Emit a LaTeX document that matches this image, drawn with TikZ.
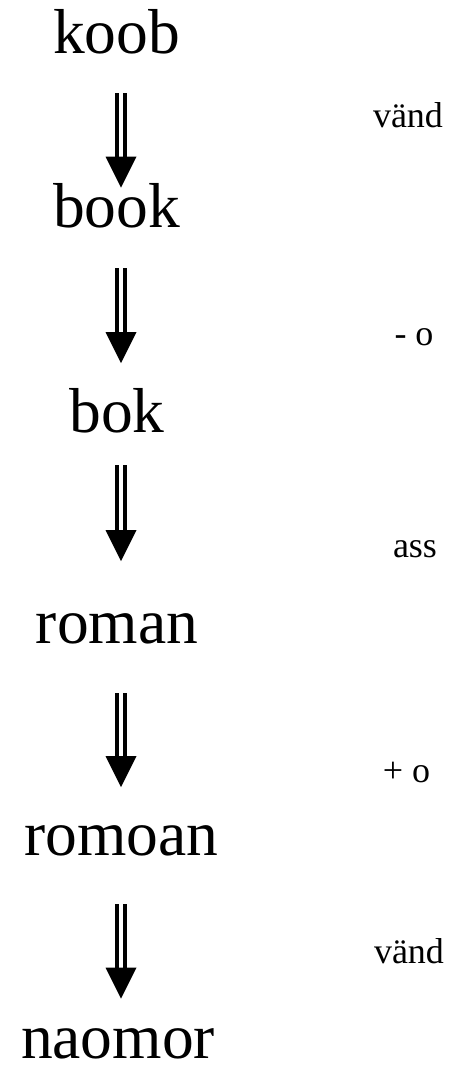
\documentclass[tikz,border=0pt]{standalone}
\usepackage{fontspec}
\setmainfont{Liberation Serif}
\tikzset{
  word/.style={font=\fontsize{63.5}{70}\selectfont, anchor=base, inner sep=0pt},
  lab/.style={font=\fontsize{36}{40}\selectfont, anchor=base, inner sep=0pt},
  shaft/.style={line width=4.2pt, line cap=butt},
  headfill/.style={fill=black}
}
\begin{document}
\begin{tikzpicture}[x=1pt,y=1pt]
\useasboundingbox (0,0) rectangle (453,-1072);
% words
\node[word] (w1) at (116.5,-53) {koob};
\node[word] (w2) at (116.5,-227) {book};
\node[word] (w3) at (117,-432) {bok};
\node[word] (w4) at (117,-643) {roman};
\node[word] (w5) at (121.5,-855) {romoan};
\node[word] (w6) at (118,-1058) {naomor};
% labels
\node[lab] (l1) at (408,-127) {vänd};
\node[lab] (l2) at (414,-345) {- o};
\node[lab] (l3) at (415,-557) {ass};
\node[lab] (l4) at (406.5,-782) {+ o};
\node[lab] (l5) at (409,-963) {vänd};
% arrow end points
\coordinate (s1) at (121,-93);  \coordinate (t1) at (121,-187.5);
\coordinate (s2) at (121,-268); \coordinate (t2) at (121,-363);
\coordinate (s3) at (121,-465); \coordinate (t3) at (121,-561);
\coordinate (s4) at (121,-693); \coordinate (t4) at (121,-787);
\coordinate (s5) at (121,-904); \coordinate (t5) at (121,-998.5);
\foreach \s/\t in {s1/t1,s2/t2,s3/t3,s4/t4,s5/t5}{
  \draw[shaft] ([xshift=-4.3pt]\s) -- ([xshift=-4.3pt,yshift=30pt]\t);
  \draw[shaft] ([xshift=4.3pt]\s) -- ([xshift=4.3pt,yshift=30pt]\t);
  \path[headfill] ([xshift=-15.5pt,yshift=31pt]\t) -- (\t) -- ([xshift=15.5pt,yshift=31pt]\t) -- cycle;
}
\end{tikzpicture}
\end{document}
